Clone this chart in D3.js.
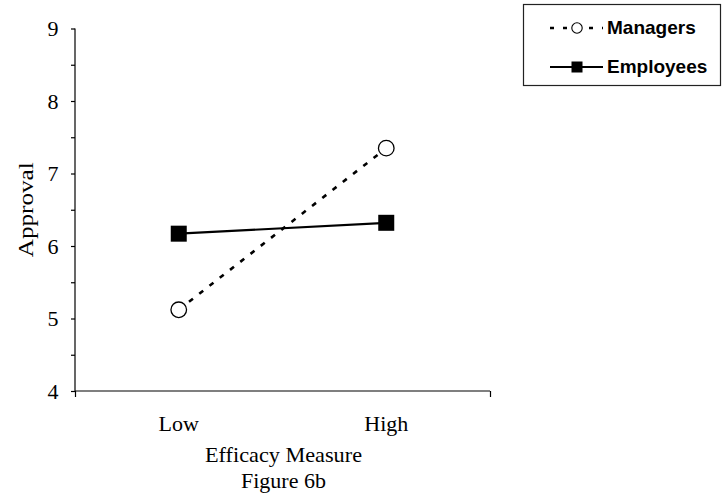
<!DOCTYPE html>
<html>
<head>
<meta charset="utf-8">
<script src="https://cdn.jsdelivr.net/npm/d3@7"></script>
<style>
  html, body { margin: 0; padding: 0; background: #fff; }
  svg { display: block; }
</style>
</head>
<body>
<script>
const categories = ["Low", "High"];
const managers = [5.12, 7.35];
const employees = [6.17, 6.32];
const yTickLabels = [4, 5, 6, 7, 8, 9];
const yMinorTicks = [4, 4.5, 5, 5.5, 6, 6.5, 7, 7.5, 8, 8.5, 9];
const seriesNames = ["Managers", "Employees"];
const xTitle = "Efficacy Measure";
const yTitle = "Approval";
const caption = "Figure 6b";

(function () {
const W = 723, H = 503;
const svg = d3.select("body").append("svg").attr("width", W).attr("height", H);

const pL = 75, pR = 490, pT = 28.5, pB = 391;
const y = d3.scaleLinear().domain([4, 9]).range([pB, pT]);
const x = d3.scaleBand().domain(categories).range([pL, pR]);
const xc = c => x(c) + x.bandwidth() / 2;
const serif = "'Liberation Serif', 'Times New Roman', serif";
const sans = "'Liberation Sans', Arial, sans-serif";

// Y axis
const yAxis = d3.axisLeft(y).tickValues(yMinorTicks).tickSize(4).tickFormat("");
const gy = svg.append("g").attr("transform", `translate(${pL},0)`).call(yAxis);
gy.select(".domain").attr("stroke", "#000").attr("stroke-width", 1.2).attr("d", `M0,${pT}V${pB}`);
gy.selectAll(".tick line").attr("stroke", "#000").attr("stroke-width", 1.2);
svg.append("g").selectAll("text").data(yTickLabels).join("text")
  .attr("x", 58.5).attr("y", d => y(d)).attr("dy", "0.36em")
  .attr("text-anchor", "end").attr("font-family", serif).attr("font-size", 22)
  .text(d => d);

// X axis
const xEdge = d3.scaleLinear().domain([0, 1]).range([pL, pR]);
const xAxis = d3.axisBottom(xEdge).tickValues([0, 1]).tickSize(6).tickFormat("");
const gx = svg.append("g").attr("transform", `translate(0,${pB})`).call(xAxis);
gx.select(".domain").attr("stroke", "#000").attr("stroke-width", 1.2).attr("d", `M${pL},0H${pR}`);
gx.selectAll(".tick line").attr("stroke", "#000").attr("stroke-width", 1.2);
svg.append("g").selectAll("text").data(categories).join("text")
  .attr("x", d => xc(d)).attr("y", 431)
  .attr("text-anchor", "middle").attr("font-family", serif).attr("font-size", 22)
  .text(d => d);

svg.append("text").attr("x", (pL + pR) / 2 + 1).attr("y", 461.5)
  .attr("text-anchor", "middle").attr("font-family", serif).attr("font-size", 22)
  .attr("textLength", 157).attr("lengthAdjust", "spacingAndGlyphs")
  .text(xTitle);
svg.append("text").attr("x", (pL + pR) / 2 + 1).attr("y", 488)
  .attr("text-anchor", "middle").attr("font-family", serif).attr("font-size", 22)
  .text(caption);
svg.append("text").attr("transform", `translate(33,${(pT + pB) / 2}) rotate(-90)`)
  .attr("text-anchor", "middle").attr("font-family", serif).attr("font-size", 22)
  .attr("textLength", 95).attr("lengthAdjust", "spacingAndGlyphs")
  .text(yTitle);

// Lines
const line = d3.line().x((d, i) => xc(categories[i])).y(d => y(d));
svg.append("path").datum(employees).attr("d", line)
  .attr("fill", "none").attr("stroke", "#000").attr("stroke-width", 2.2);
svg.append("path").datum(managers).attr("d", line)
  .attr("fill", "none").attr("stroke", "#000").attr("stroke-width", 2.6)
  .attr("stroke-dasharray", "5,8");

// Markers
const sq = 16;
svg.append("g").selectAll("rect").data(employees).join("rect")
  .attr("x", (d, i) => xc(categories[i]) - sq / 2).attr("y", d => y(d) - sq / 2)
  .attr("width", sq).attr("height", sq).attr("fill", "#000");
svg.append("g").selectAll("circle").data(managers).join("circle")
  .attr("cx", (d, i) => xc(categories[i])).attr("cy", d => y(d)).attr("r", 7.8)
  .attr("fill", "#fff").attr("stroke", "#000").attr("stroke-width", 1.3);

// Legend
const lg = svg.append("g");
lg.append("rect").attr("x", 523.5).attr("y", 4.5).attr("width", 197).attr("height", 81)
  .attr("fill", "#fff").attr("stroke", "#222").attr("stroke-width", 1.2);
const legendRows = [{ name: seriesNames[0], y: 28, dashed: true }, { name: seriesNames[1], y: 67, dashed: false }];
legendRows.forEach(r => {
  lg.append("line").attr("x1", 550).attr("x2", 603).attr("y1", r.y).attr("y2", r.y)
    .attr("stroke", "#000").attr("stroke-width", r.dashed ? 2.6 : 2.2)
    .attr("stroke-dasharray", r.dashed ? "4,9" : null);
  if (r.dashed) {
    lg.append("circle").attr("cx", 577).attr("cy", r.y).attr("r", 5.2)
      .attr("fill", "#fff").attr("stroke", "#000").attr("stroke-width", 1.1);
  } else {
    lg.append("rect").attr("x", 577 - 5.5).attr("y", r.y - 5.5).attr("width", 11).attr("height", 11)
      .attr("fill", "#000");
  }
  lg.append("text").attr("x", 607).attr("y", r.y + 6)
    .attr("font-family", sans).attr("font-weight", "bold").attr("font-size", 19)
    .text(r.name);
});
})();
</script>
</body>
</html>
